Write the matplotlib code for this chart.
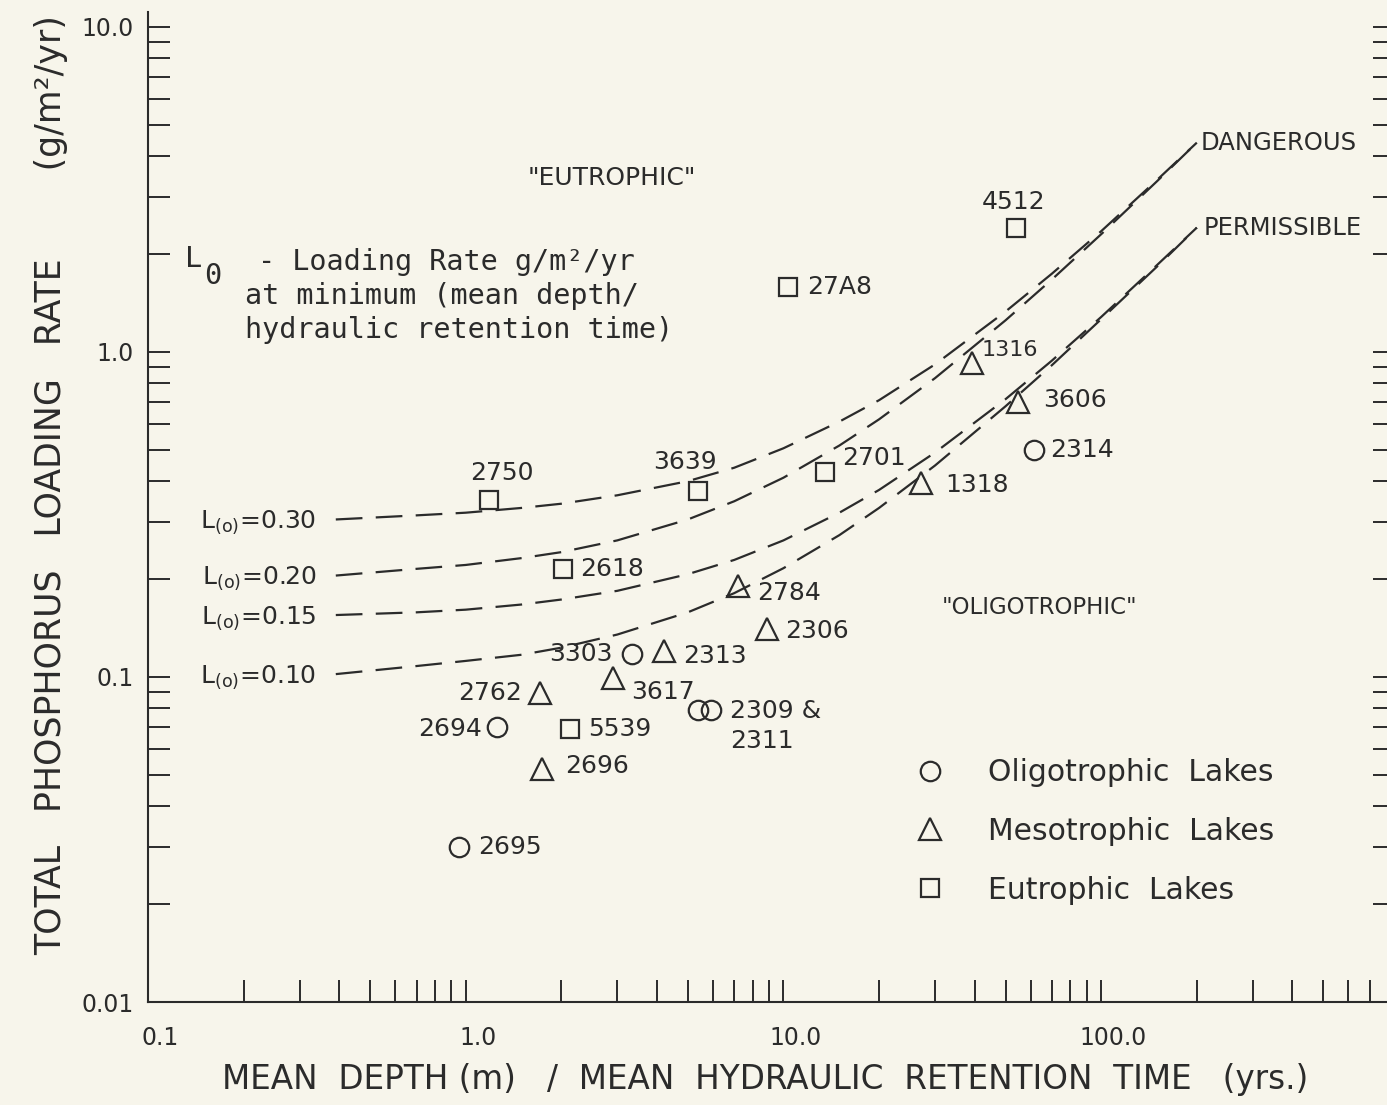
import numpy as np
import matplotlib.pyplot as plt
from matplotlib.ticker import FixedLocator, FixedFormatter, LogLocator, NullFormatter
from matplotlib.transforms import ScaledTranslation

# --- data ---
# critical loading curves: x = mean depth / retention time, y = loading (g/m2/yr)
curve_x = [0.39, 0.7, 1.0, 1.5, 2.0, 3.0, 5.0, 7.0, 10.0, 15.0, 20.0, 30.0, 50.0, 70.0, 100.0, 150.0, 200.0]
load_030 = [0.305, 0.314, 0.32, 0.331, 0.341, 0.362, 0.40, 0.44, 0.505, 0.61, 0.71, 0.915, 1.33, 1.74, 2.35, 3.38, 4.4]
load_020 = [0.205, 0.215, 0.221, 0.232, 0.242, 0.263, 0.305, 0.347, 0.41, 0.515, 0.62, 0.83, 1.25, 1.67, 2.3, 3.35, 4.4]
load_015 = [0.155, 0.158, 0.161, 0.167, 0.173, 0.184, 0.207, 0.229, 0.263, 0.32, 0.376, 0.49, 0.715, 0.94, 1.28, 1.85, 2.41]
load_010 = [0.102, 0.108, 0.112, 0.117, 0.123, 0.135, 0.158, 0.181, 0.216, 0.273, 0.331, 0.447, 0.68, 0.91, 1.26, 1.83, 2.41]
curve_names = ['0.30', '0.20', '0.15', '0.10']

# lakes
olig_ids = ['3303', '2694', '2309', '2311', '2695', '2314']
olig_x = [3.34, 1.25, 5.38, 5.92, 0.95, 61.5]
olig_y = [0.118, 0.070, 0.079, 0.079, 0.030, 0.50]

meso_ids = ['2784', '2306', '2313', '3617', '2762', '2696', '1316', '3606', '1318']
meso_x = [7.2, 8.9, 4.2, 2.9, 1.71, 1.74, 39.2, 54.7, 27.1]
meso_y = [0.19, 0.14, 0.12, 0.099, 0.089, 0.052, 0.925, 0.70, 0.395]

eut_ids = ['2750', '3639', '2701', '2618', '5539', '27A8', '4512']
eut_x = [1.18, 5.38, 13.5, 2.02, 2.13, 10.3, 54.0]
eut_y = [0.35, 0.373, 0.427, 0.215, 0.069, 1.585, 2.41]

# --- style ---
paper = '#f7f5eb'
ink = '#2b2b2b'
plt.rcParams['font.family'] = ['DejaVu Sans']
plt.rcParams['text.color'] = ink

fig = plt.figure(figsize=(13.87, 11.05), dpi=100, facecolor=paper)
ax = fig.add_axes([148 / 1387, 103 / 1105, 1247 / 1387, 990 / 1105])
ax.set_facecolor(paper)
ax.set_xscale('log')
ax.set_yscale('log')
ax.set_xlim(0.1, 841)
ax.set_ylim(0.01, 11.1)

for s in ['left', 'bottom', 'right']:
    ax.spines[s].set_linewidth(1.5)
    ax.spines[s].set_color(ink)
ax.spines['top'].set_visible(False)

ax.xaxis.set_major_locator(FixedLocator([0.1, 1, 10, 100]))
ax.xaxis.set_major_formatter(FixedFormatter(['0.1', '1.0', '10.0', '100.0']))
ax.yaxis.set_major_locator(FixedLocator([0.01, 0.1, 1, 10]))
ax.yaxis.set_major_formatter(FixedFormatter(['0.01', '0.1', '1.0', '10.0']))
for a in (ax.xaxis, ax.yaxis):
    a.set_minor_locator(LogLocator(base=10, subs=np.arange(2, 10), numticks=20))
    a.set_minor_formatter(NullFormatter())
ax.tick_params(which='both', direction='in', length=16, width=1.4, color=ink,
               top=False, right=True, labelsize=17, labelcolor=ink)
ax.tick_params(axis='x', pad=17)
ax.tick_params(axis='y', pad=10)
shift = ScaledTranslation(0.12, 0, fig.dpi_scale_trans)
for lbl in ax.get_xticklabels():
    lbl.set_transform(lbl.get_transform() + shift)

ax.set_xlabel('MEAN  DEPTH (m)   /  MEAN  HYDRAULIC  RETENTION  TIME   (yrs.)', fontsize=23.5, color=ink)
ax.xaxis.set_label_coords(0.495, -0.062)
ax.set_ylabel('TOTAL   PHOSPHORUS   LOADING   RATE        (g/m²/yr)', fontsize=25, color=ink)
ax.yaxis.set_label_coords(-0.064, 0.522)

# curves
dash = (0, (12, 6))
for ys, name in zip([load_030, load_020, load_015, load_010], curve_names):
    ax.plot(curve_x, ys, color=ink, lw=1.6, linestyle=dash)
    ax.annotate(r'L$_{\mathrm{(o)}}$=' + name, xy=(curve_x[0], ys[0]), xytext=(-14, -6),
                textcoords='offset points', ha='right', va='baseline', fontsize=18)
ax.annotate('DANGEROUS', xy=(curve_x[-1], load_030[-1]), xytext=(3, 0),
            textcoords='offset points', ha='left', va='center', fontsize=17.5)
ax.annotate('PERMISSIBLE', xy=(curve_x[-1], load_010[-1]), xytext=(5, 0),
            textcoords='offset points', ha='left', va='center', fontsize=17.5)

# markers
mk = dict(linestyle='none', markerfacecolor='none', markeredgecolor=ink, markeredgewidth=1.6)
ax.plot(olig_x, olig_y, marker='o', markersize=14, label='Oligotrophic  Lakes', **mk)
ax.plot(meso_x, meso_y, marker='^', markersize=16, label='Mesotrophic  Lakes', **mk)
ax.plot(eut_x, eut_y, marker='s', markersize=12.5, label='Eutrophic  Lakes', **mk)

# label placement in pixels: dx, dy (up), ha
place = {
    '3303': (-20, 0, 'right'), '2694': (-15, -2, 'right'), '2695': (19, 0, 'left'),
    '2314': (16, 0, 'left'), '2784': (19, -7, 'left'), '2306': (18, -2, 'left'),
    '2313': (19, -5, 'left'), '3617': (18, -14, 'left'), '2762': (-18, 0, 'right'),
    '2696': (23, 3, 'left'), '1316': (10, 13, 'left'), '3606': (25, 2, 'left'),
    '1318': (24, -2, 'left'), '2750': (13, 27, 'center'), '3639': (-13, 29, 'center'),
    '2701': (17, 14, 'left'), '2618': (17, 0, 'left'), '5539': (18, 0, 'left'),
    '27A8': (20, 0, 'left'), '4512': (-3, 26, 'center'),
}
for ids, xs, ys in [(olig_ids, olig_x, olig_y), (meso_ids, meso_x, meso_y), (eut_ids, eut_x, eut_y)]:
    for i, x, y in zip(ids, xs, ys):
        if i not in place:
            continue
        dx, dy, ha = place[i]
        ax.annotate(i, xy=(x, y), xytext=(dx * 0.72, dy * 0.72), textcoords='offset points',
                    ha=ha, va='center', fontsize=16 if i == '1316' else 18)
# the pair of circles shares one label
ax.annotate(olig_ids[2] + ' &\n' + olig_ids[3], xy=(olig_x[3], olig_y[3]),
            xytext=(19 * 0.72, -16 * 0.72), textcoords='offset points',
            ha='left', va='center', fontsize=18, linespacing=1.3)

# region captions and note
def fx(px):
    return (px - 148) / 1247

def fy(py):
    return (1002 - py) / 990

ax.text(fx(612), fy(178), '"EUTROPHIC"', transform=ax.transAxes, ha='center', va='center', fontsize=18)
ax.text(fx(1040), fy(607), '"OLIGOTROPHIC"', transform=ax.transAxes, ha='center', va='center', fontsize=16.5)
mono = 'DejaVu Sans Mono'
ax.text(fx(185), fy(259), 'L', transform=ax.transAxes, ha='left', va='center', fontsize=20.5, family=mono)
ax.text(fx(204), fy(276), '0', transform=ax.transAxes, ha='left', va='center', fontsize=20.5, family=mono)
ax.text(fx(258), fy(262), '- Loading Rate g/m²/yr', transform=ax.transAxes, ha='left', va='center',
        fontsize=20.5, family=mono)
ax.text(fx(245), fy(296), 'at minimum (mean depth/', transform=ax.transAxes, ha='left', va='center',
        fontsize=20.5, family=mono)
ax.text(fx(245), fy(330), 'hydraulic retention time)', transform=ax.transAxes, ha='left', va='center',
        fontsize=20.5, family=mono)

ax.legend(loc='upper left', bbox_to_anchor=(fx(916), fy(758)), frameon=False, fontsize=21.5,
          borderpad=0, borderaxespad=0, handlelength=0.95, handletextpad=1.45, labelspacing=1.0,
          labelcolor=ink)

fig.savefig('out.png', dpi=100, facecolor=paper)
